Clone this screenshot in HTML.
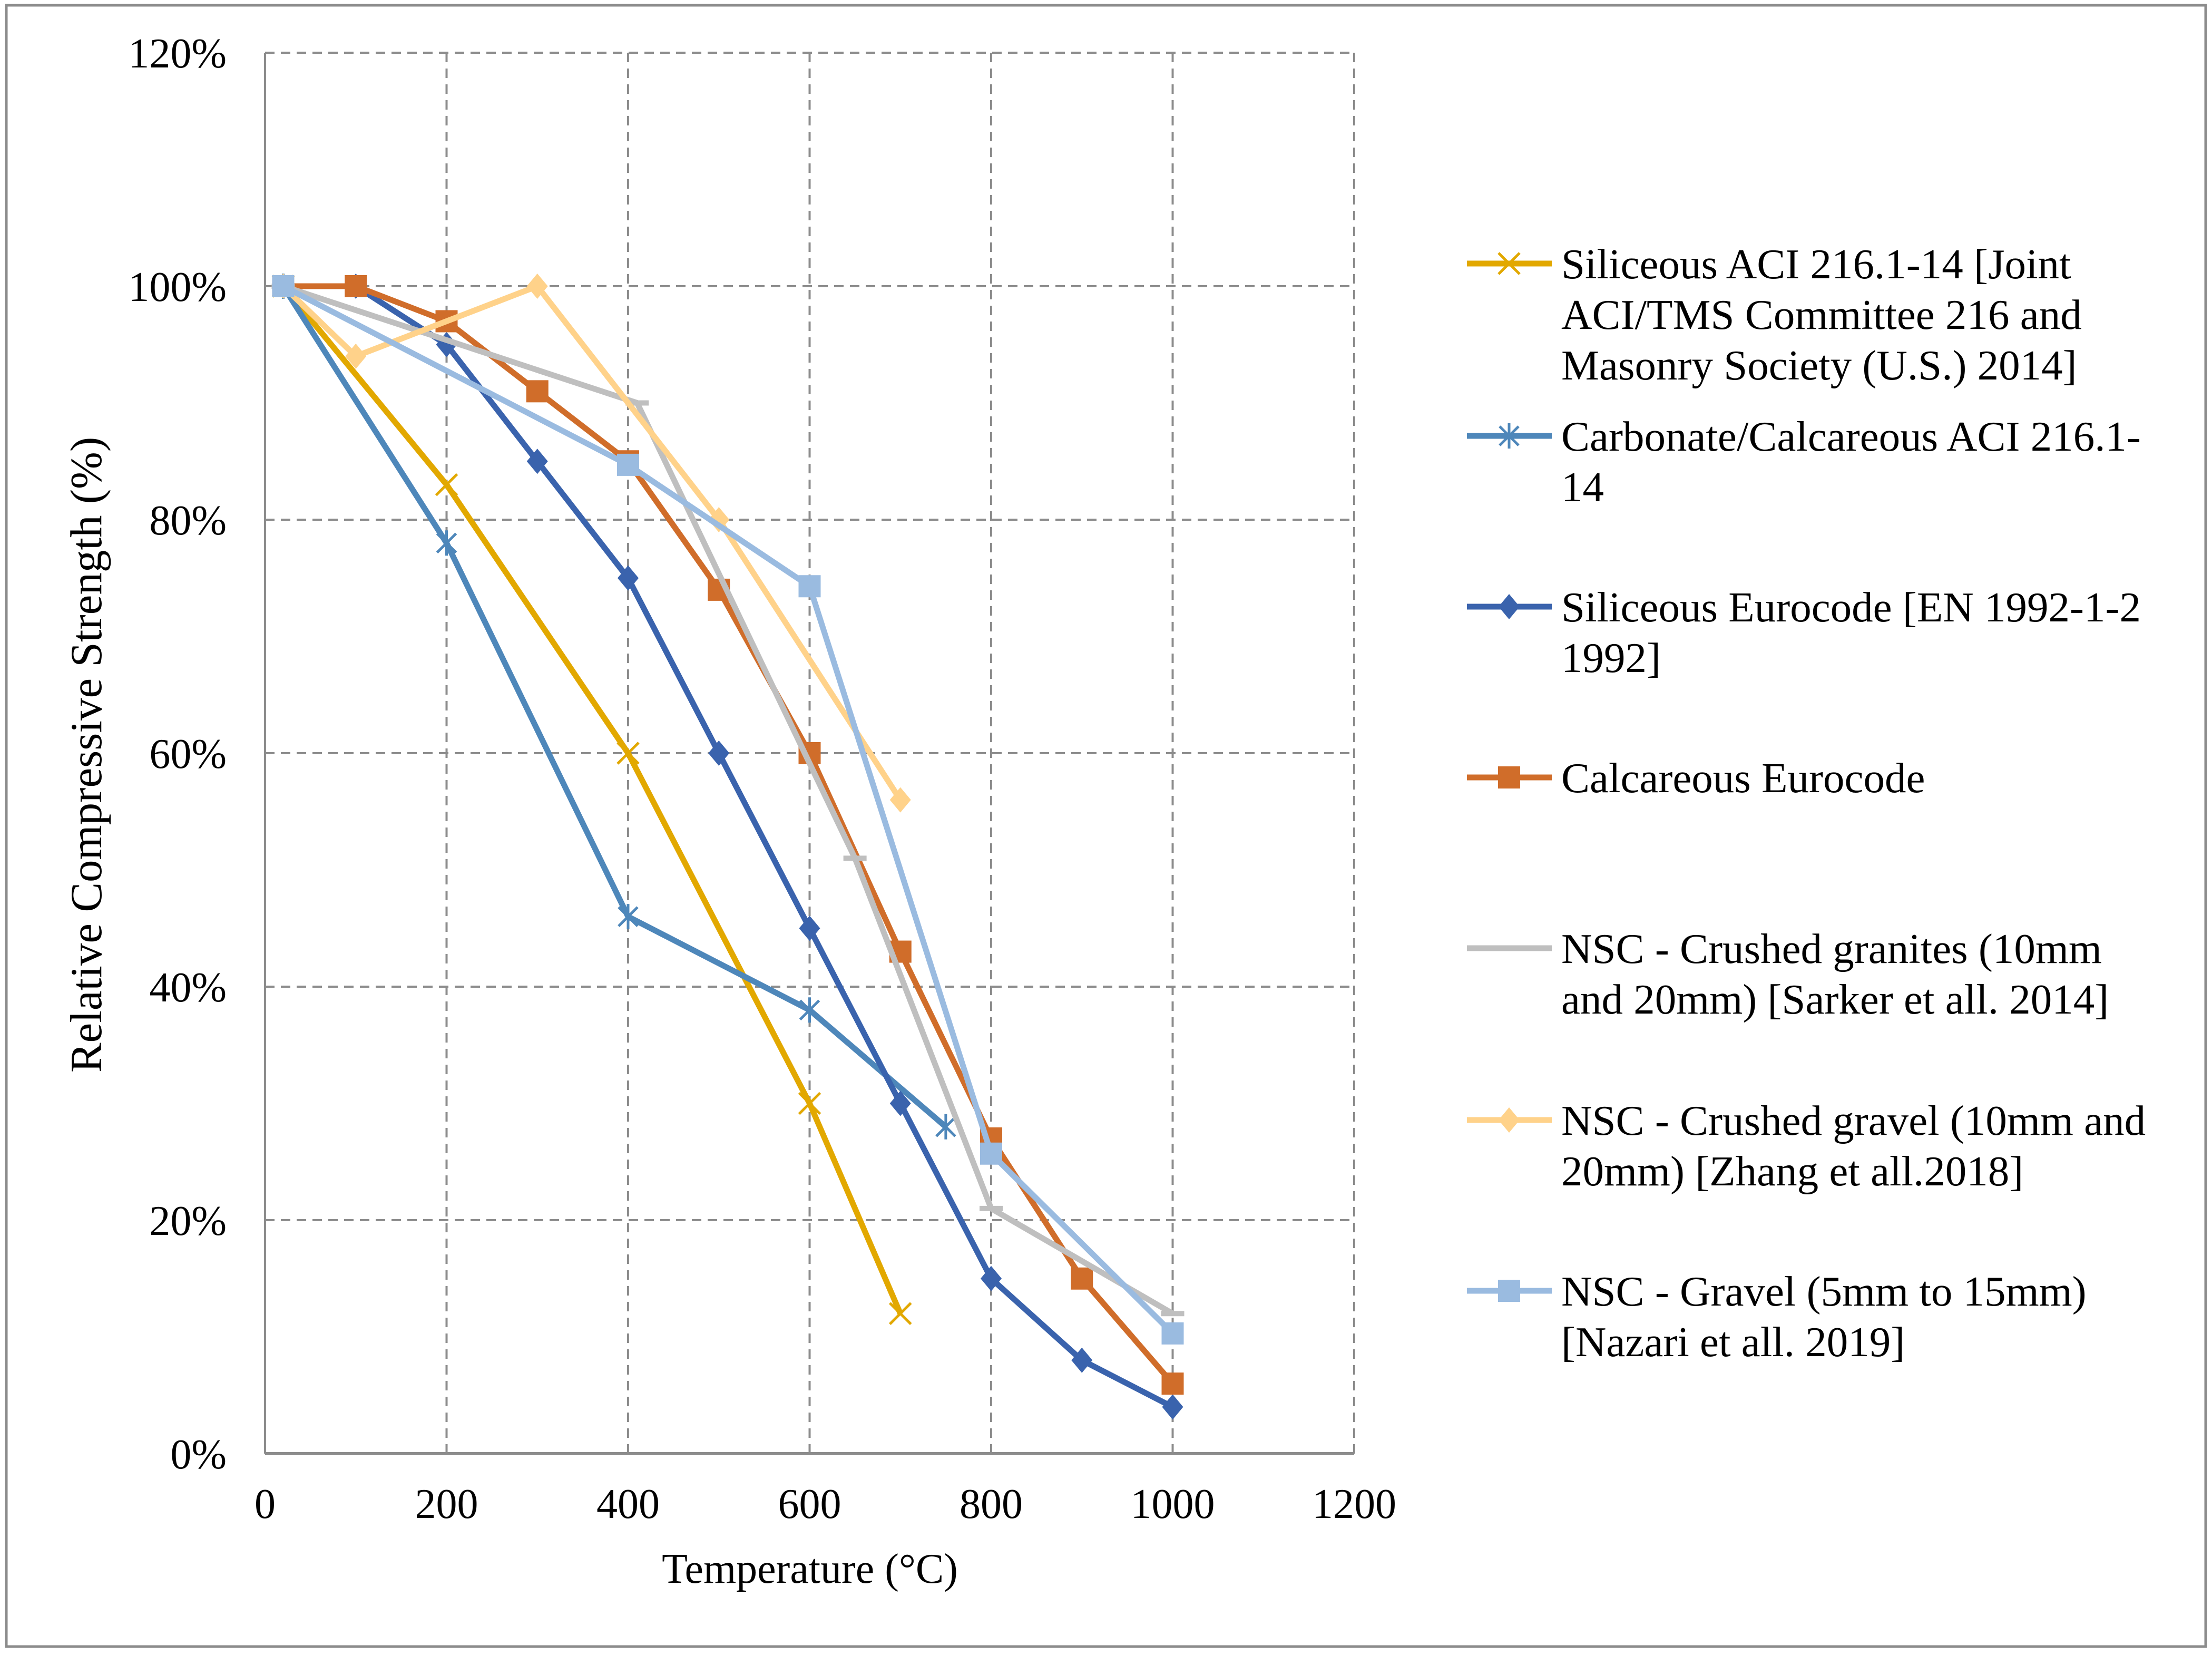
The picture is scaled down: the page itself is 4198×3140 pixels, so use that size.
<!DOCTYPE html>
<html><head><meta charset="utf-8"><style>
html,body{margin:0;padding:0;background:#fff;}
svg{display:block;font-family:"Liberation Serif",serif;}
</style></head><body>
<svg id="chart" width="4198" height="3140" xmlns="http://www.w3.org/2000/svg">
<rect x="12" y="10" width="4174" height="3114" fill="#fff" stroke="#8c8c8c" stroke-width="5"/>
<g id="grid"></g>
<g id="axes"></g>
<g id="series"></g>
<g id="legend"></g>
<text x="1537" y="3003" font-size="80" text-anchor="middle">Temperature (°C)</text>
<text transform="translate(192,1432) rotate(-90)" font-size="85" text-anchor="middle">Relative Compressive Strength  (%)</text>
</svg>
<script>
const xTicks = [0,200,400,600,800,1000,1200];
const yTicks = [0,20,40,60,80,100,120];
const seriesNames = [
 ["Siliceous ACI 216.1-14 [Joint","ACI/TMS Committee 216 and","Masonry Society (U.S.) 2014]"],
 ["Carbonate/Calcareous ACI 216.1-","14"],
 ["Siliceous Eurocode [EN 1992-1-2","1992]"],
 ["Calcareous Eurocode"],
 ["NSC - Crushed granites (10mm","and 20mm) [Sarker et all. 2014]"],
 ["NSC - Crushed gravel (10mm and","20mm) [Zhang et all.2018]"],
 ["NSC - Gravel (5mm to 15mm)","[Nazari et all. 2019]"]
];
const s1x=[20,200,400,600,700], s1y=[100,83,60,30,12];
const s2x=[20,200,400,600,750], s2y=[100,78,46,38,28];
const s3x=[20,100,200,300,400,500,600,700,800,900,1000], s3y=[100,100,95,85,75,60,45,30,15,8,4];
const s4x=[20,100,200,300,400,500,600,700,800,900,1000], s4y=[100,100,97,91,85,74,60,43,27,15,6];
const s5x=[20,410,650,800,1000], s5y=[100,90,51,21,12];
const s6x=[20,100,300,500,700], s6y=[100,94,100,80,56];
const s7x=[20,400,600,800,1000], s7y=[100,84.7,74.3,25.7,10.3];

const NS="http://www.w3.org/2000/svg";
const X0=503,X1=2570,Y0=2758,Y1=100;
const xs=v=>X0+(v/1200)*(X1-X0);
const ys=v=>Y0-(v/120)*(Y0-Y1);
function mk(tag,attrs,parent){const e=document.createElementNS(NS,tag);for(const k in attrs)e.setAttribute(k,attrs[k]);parent.appendChild(e);return e;}
const grid=document.getElementById('grid'),axes=document.getElementById('axes'),ser=document.getElementById('series'),leg=document.getElementById('legend');
xTicks.forEach(t=>{
 if(t>0){const l=mk('line',{x1:xs(t),x2:xs(t),y1:Y1,y2:Y0,stroke:'#8c8c8c','stroke-width':4,'stroke-dasharray':'18,12'},grid);
 
 }
 const tx=mk('text',{x:xs(t),y:2880,'font-size':80,'text-anchor':'middle'},axes);tx.textContent=t;
 
 
});
yTicks.forEach(t=>{
 if(t>0){const l=mk('line',{x1:X0,x2:X1,y1:ys(t),y2:ys(t),stroke:'#8c8c8c','stroke-width':4,'stroke-dasharray':'18,12'},grid);
 
 }
 const tx=mk('text',{x:430,y:ys(t)+28,'font-size':80,'text-anchor':'end'},axes);tx.textContent=t+'%';
 
 
});
const ax1=mk('line',{x1:X0,x2:X0,y1:Y1,y2:Y0,stroke:'#8c8c8c','stroke-width':4},axes);


const ax2=mk('line',{x1:X0,x2:X1,y1:Y0,y2:Y0,stroke:'#8c8c8c','stroke-width':6},axes);



function marker(type,cx,cy,color,g){
 let e;
 if(type==='x'){e=mk('path',{d:`M${cx-20},${cy-20}L${cx+20},${cy+20}M${cx-20},${cy+20}L${cx+20},${cy-20}`,stroke:color,'stroke-width':5,fill:'none'},g);}
 else if(type==='star'){e=mk('path',{d:`M${cx-18},${cy-18}L${cx+18},${cy+18}M${cx-18},${cy+18}L${cx+18},${cy-18}M${cx},${cy-24}L${cx},${cy+24}`,stroke:color,'stroke-width':5,fill:'none'},g);}
 else if(type==='diamond'){e=mk('path',{d:`M${cx},${cy-24}L${cx+20},${cy}L${cx},${cy+24}L${cx-20},${cy}Z`,fill:color},g);}
 else if(type==='square'){e=mk('rect',{x:cx-21,y:cy-21,width:42,height:42,fill:color},g);}
 else if(type==='dash'){e=mk('line',{x1:cx-22,x2:cx+22,y1:cy,y2:cy,stroke:color,'stroke-width':10},g);}
 
 
}
const defs=[
 [s1x,s1y,'#E2A800','x'],[s2x,s2y,'#4E87BA','star'],[s3x,s3y,'#3A63AD','diamond'],
 [s4x,s4y,'#D06D2A','square'],[s5x,s5y,'#BFBFBF','dash'],[s6x,s6y,'#FFD28A','diamond'],[s7x,s7y,'#9ABBE0','square']];
const legY=[500,827,1151,1475,1799,2125,2449];
defs.forEach((d,i)=>{
 const g=mk('g',{},ser);
 
 
 const pts=d[0].map((x,k)=>xs(x)+','+ys(d[1][k])).join(' ');
 const pl=mk('polyline',{points:pts,fill:'none',stroke:d[2],'stroke-width':11,'stroke-linejoin':'round'},g);
 
 
 d[0].forEach((x,k)=>marker(d[3],xs(x),ys(d[1][k]),d[2],g));
 const lg=mk('g',{},leg);
 
 
 const ll=mk('line',{x1:2784,x2:2945,y1:legY[i],y2:legY[i],stroke:d[2],'stroke-width':11},lg);
 
 
 marker(d[3],2864,legY[i],d[2],lg);
 seriesNames[i].forEach((s,j)=>{
  const t=mk('text',{x:2963,y:legY[i]+28+j*96,'font-size':81},lg);t.textContent=s;
  
  
 });
});
</script>
</body></html>
